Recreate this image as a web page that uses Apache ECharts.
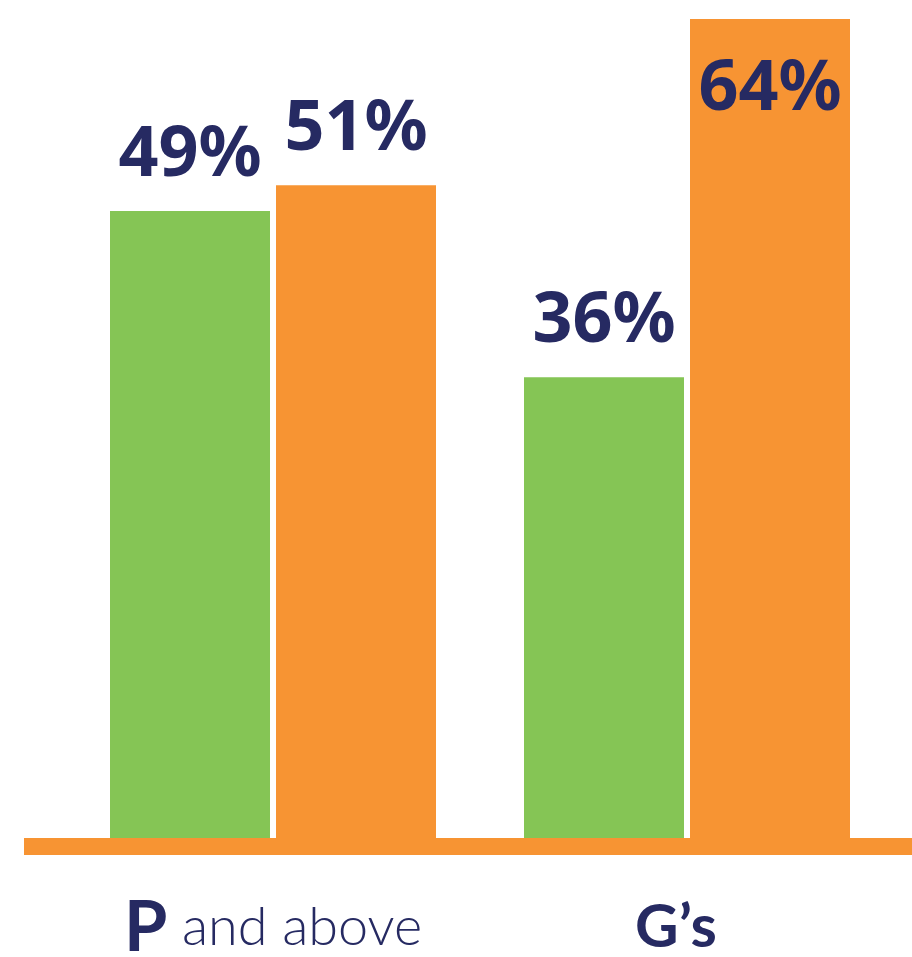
<!DOCTYPE html>
<html><head><meta charset="utf-8">
<script src="https://cdn.jsdelivr.net/npm/echarts@6/dist/echarts.min.js"></script>
<style>html,body{margin:0;padding:0;background:#fff}#c{width:912px;height:957px}</style>
</head><body><div id="c"></div>
<script>
const categories = ['P and above', 'G’s'];
const greenValues = [49, 36];
const orangeValues = [51, 64];
const insideLabelIndex = 1; // orange 64% label sits inside the bar

const NAVY = '#262A62', GREEN = '#85C555', ORANGE = '#F79433';
const chart = echarts.init(document.getElementById('c'));
const pctLabel = {
  show: true, position: 'top', distance: 20,
  formatter: '{c}%', color: NAVY, fontFamily: 'Noto Sans', fontWeight: 'bold', fontSize: 70
};
chart.setOption({
  animation: false,
  grid: [
    {left: 66, right: 18, top: 19, bottom: 119, containLabel: false, outerBoundsMode: 'none'},
    {left: 24, right: 0, top: 19, bottom: 110.5, containLabel: false, outerBoundsMode: 'none'}
  ],
  xAxis: [
    {type: 'category', data: categories, gridIndex: 0,
     axisLine: {show: false}, axisTick: {show: false},
     axisLabel: {
       margin: 54, interval: 0,
       formatter: function (v) {
         const i = v.indexOf(' ');
         if (i < 0) return '{g|' + v + '}';
         return '{p|' + v.slice(0, i) + '}{l| ' + v.slice(i + 1) + '}';
       },
       rich: {
         p: {fontFamily: 'Lato', fontWeight: 'bold', fontSize: 70, color: NAVY, lineHeight: 72},
         l: {fontFamily: 'Lato', fontWeight: 300, fontSize: 54, color: NAVY, lineHeight: 72},
         g: {fontFamily: 'Lato', fontWeight: 'bold', fontSize: 60, color: NAVY, lineHeight: 72, padding: [0, 22, 0, 0]}
       }
     }},
    {type: 'category', data: [], gridIndex: 1,
     axisLine: {show: true, onZero: false, lineStyle: {color: ORANGE, width: 17, cap: 'butt'}},
     axisTick: {show: false}, axisLabel: {show: false}}
  ],
  yAxis: [
    {type: 'value', min: 0, max: 64, gridIndex: 0, show: false, splitLine: {show: false}},
    {type: 'value', min: 0, max: 1, gridIndex: 1, show: false, splitLine: {show: false}}
  ],
  series: [
    {type: 'bar', xAxisIndex: 0, yAxisIndex: 0, data: greenValues,
     itemStyle: {color: GREEN}, barWidth: 160, barGap: '3.75%', label: pctLabel, z: 3},
    {type: 'bar', xAxisIndex: 0, yAxisIndex: 0,
     data: orangeValues.map((v, i) => i === insideLabelIndex
       ? {value: v, label: {position: 'insideTop', distance: 36}} : v),
     itemStyle: {color: ORANGE}, barWidth: 160, barGap: '3.75%', label: pctLabel, z: 3}
  ]
});
</script></body></html>
